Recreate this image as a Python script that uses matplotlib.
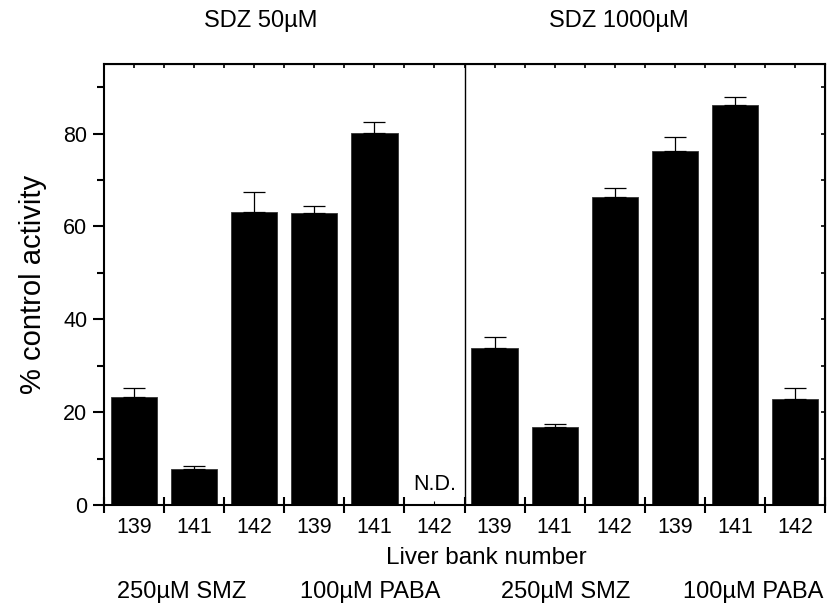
"""Inhibition of SMZ and PABA activity by SDZ, per liver bank."""

import numpy as np
import matplotlib
matplotlib.use('Agg')
import matplotlib.pyplot as plt
from matplotlib.ticker import MultipleLocator, FixedLocator

plt.rcParams['font.family'] = ['Liberation Sans', 'DejaVu Sans']

liver_banks = ['139', '141', '142', '139', '141', '142',
               '139', '141', '142', '139', '141', '142']
substrates = ['250\u00b5M SMZ', '100\u00b5M PABA', '250\u00b5M SMZ', '100\u00b5M PABA']
sdz_doses = ['SDZ 50\u00b5M', 'SDZ 1000\u00b5M']

# % control activity, mean and SEM; nan = not determined
activity = [23.2, 7.7, 63.2, 62.9, 80.1, np.nan,
            33.9, 16.7, 66.3, 76.2, 86.1, 22.8]
sem = [2.0, 0.6, 4.2, 1.5, 2.4, 0.0,
       2.2, 0.8, 1.9, 3.1, 1.8, 2.3]

fig = plt.figure(figsize=(8.28, 6.09), dpi=100)
ax = fig.add_axes([0.1256, 0.1708, 0.8708, 0.7241])

x = np.arange(len(liver_banks))
vals = np.array(activity)
errs = np.array(sem)
ok = ~np.isnan(vals)

ax.bar(x[ok], vals[ok], width=0.77, color='black', edgecolor='#333333', linewidth=0.6, zorder=2)
ax.errorbar(x[ok], vals[ok], yerr=[np.zeros(ok.sum()), errs[ok]], fmt='none',
            ecolor='black', elinewidth=0.9, capsize=8, capthick=0.9, zorder=3)

# not determined
for xi in x[~ok]:
    ax.text(xi, 4.5, 'N.D.', ha='center', va='center', fontsize=15.5)

# split between the two SDZ doses
ax.axvline(5.5, color='black', linewidth=1.0, zorder=1)

ax.set_xlim(-0.5, 11.5)
ax.set_ylim(0, 95)

for sp in ax.spines.values():
    sp.set_linewidth(1.5)

ax.yaxis.set_major_locator(MultipleLocator(20))
ax.yaxis.set_minor_locator(MultipleLocator(10))
ax.tick_params(axis='y', which='major', direction='out', length=8, width=1.5,
               labelsize=15.5, pad=4, right=False)
ax.tick_params(axis='y', which='minor', direction='out', length=5, width=1.5, right=False)

ax.xaxis.set_major_locator(FixedLocator(np.arange(-0.5, 12, 1.0)))
ax.xaxis.set_minor_locator(FixedLocator(x))
ax.tick_params(axis='x', which='major', direction='inout', length=12, width=1.5,
               labelbottom=False, top=False)
ax.tick_params(axis='x', which='minor', direction='in', length=3, width=0.8,
               labelsize=15.5, pad=9, top=False)
ax.set_xticks(x, liver_banks, minor=True)

# inward ticks along the top and right
top = ax.secondary_xaxis('top')
top.set_xticks(np.arange(-0.5, 12, 0.5))
top.tick_params(direction='in', length=3, width=1.2, labeltop=False)
right = ax.secondary_yaxis('right')
right.set_yticks(np.arange(0, 95, 10))
right.tick_params(direction='in', length=3, width=1.2, labelright=False)

ax.set_ylabel('% control activity', fontsize=21, labelpad=12)

fig.text(486 / 828, 1 - 558.5 / 609, 'Liver bank number', ha='center', va='center', fontsize=17.5)

sub_pos = [0.8, 3.93, 7.18, 10.3]
for xp, lab in zip(sub_pos, substrates):
    ax.text(xp, -18.7, lab, ha='center', va='center', fontsize=17)

dose_pos = [261, 619]
for xp, lab in zip(dose_pos, sdz_doses):
    fig.text(xp / 828, 1 - 21 / 609, lab, ha='center', va='center', fontsize=17)

fig.savefig('out.png', dpi=100)
